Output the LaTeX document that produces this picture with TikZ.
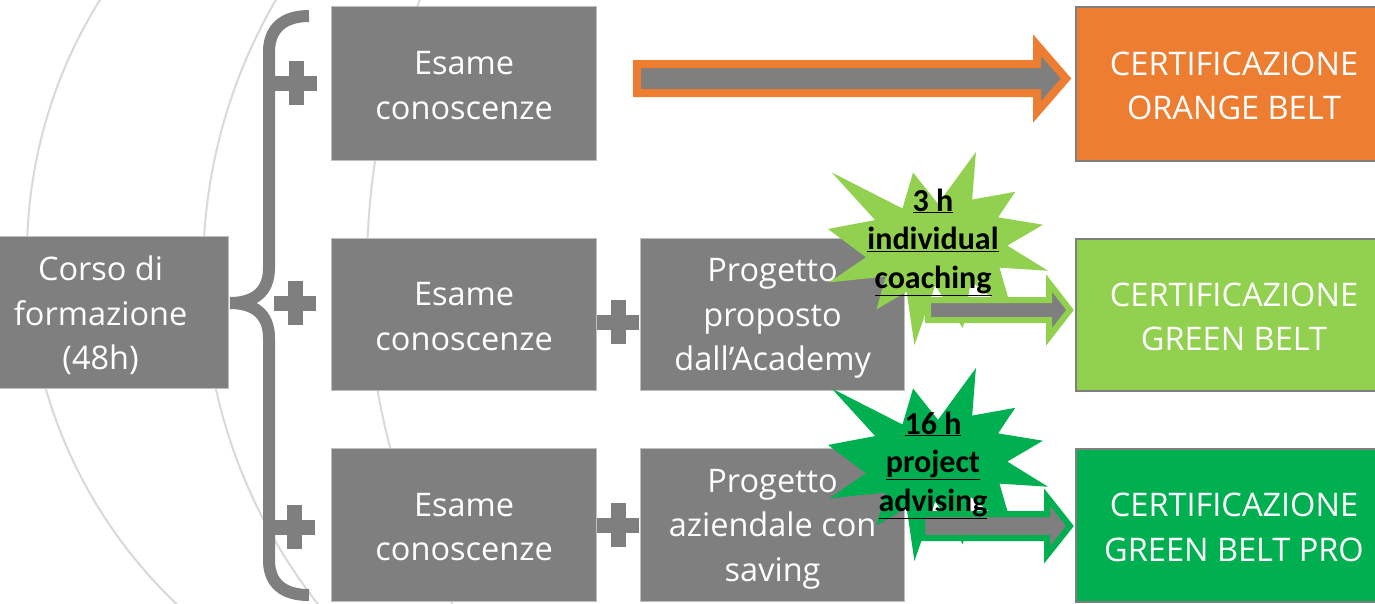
\documentclass[tikz,border=0pt]{standalone}
\usepackage{fontspec}
\usetikzlibrary{calc}
\newfontfamily\osans{Open Sans}
\newfontfamily\carl{Carlito}
\definecolor{boxgray}{HTML}{7F7F7F}
\definecolor{boxline}{HTML}{BFBFBF}
\definecolor{certline}{HTML}{7F7F7F}
\definecolor{orangebelt}{HTML}{ED7D31}
\definecolor{greenbelt}{HTML}{92D050}
\definecolor{greenpro}{HTML}{00B050}
\definecolor{arcgray}{HTML}{D9D9D9}
\begin{document}
\begin{tikzpicture}[x=1pt,y=-1pt,
  box/.style={rectangle, anchor=north west, inner sep=0pt},
  graybox/.style={box, fill=boxgray, draw=boxline, line width=1.2pt},
  certbox/.style={box, draw=certline, line width=2pt},
  boxtext/.style={align=center, text=white, inner sep=0pt,
              font=\osans\fontsize{32.5}{44.5}\selectfont},
  startext/.style={align=center, text=black, inner sep=0pt,
              font=\carl\bfseries\fontsize{32}{38.5}\selectfont},
  braceline/.style={draw=boxgray, line width=12pt},
  bgarc/.style={draw=arcgray, line width=2pt},
  blockarrow/.style={fill=boxgray, line join=miter},
  pics/plussign/.style={code={
    \fill[boxgray] (-21,-7.5) rectangle (21,7.5);
    \fill[boxgray] (-7.5,-22) rectangle (7.5,22);}},
  pics/explosion/.style={code={
    \fill[#1] (108,58) -- (83.52,22.95) -- (73.12,63.20) -- (3.70,22.95) -- (46.27,76.17)
      -- (0,86.15) -- (37.22,117.75) -- (1.35,145.87) -- (56.67,139.37) -- (47.62,176.17)
      -- (77.15,156.27) -- (84.85,216) -- (105.32,149.35) -- (132.47,197.37) -- (140.20,144.57)
      -- (181.45,180.95) -- (168.37,129.42) -- (216,132.90) -- (176.07,104.75) -- (210.97,81.37)
      -- (167.02,73.15) -- (183.80,44.57) -- (141.55,53.25) -- (145.22,0) -- cycle;}}
]
\useasboundingbox (0,0) rectangle (1375,603);
\fill[white] (0,0) rectangle (1375,603);

% background arcs
\begin{scope}
  \clip (0,0) rectangle (640,603);
  \draw[bgarc] (509,255) circle[radius=482];
  \draw[bgarc] (743,271) circle[radius=540];
  \draw[bgarc] (1071,268) circle[radius=704];
\end{scope}

% boxes
\node[graybox, minimum width=256pt, minimum height=152pt] (corso) at (-28,236) {};
\node[graybox, minimum width=265pt, minimum height=154pt] (e1) at (331,6) {};
\node[graybox, minimum width=265pt, minimum height=152pt] (e2) at (331,238) {};
\node[graybox, minimum width=265pt, minimum height=153pt] (e3) at (331,448) {};
\node[graybox, minimum width=264pt, minimum height=152pt] (p1) at (640,238) {};
\node[graybox, minimum width=264pt, minimum height=153pt] (p2) at (640,448) {};
\node[certbox, fill=orangebelt, minimum width=316pt, minimum height=154pt] (c1) at (1075,6) {};
\node[certbox, fill=greenbelt, minimum width=316pt, minimum height=152pt] (c2) at (1075,238) {};
\node[certbox, fill=greenpro, minimum width=316pt, minimum height=153pt] (c3) at (1075,448) {};

% box texts
\node[boxtext] (corsot) at ($(corso.center)+(0,3)$) {Corso di\\formazione\\(48h)};
\node[boxtext] (e1t) at ($(e1.center)+(0,2)$) {Esame\\conoscenze};
\node[boxtext] (e2t) at ($(e2.center)+(0,2)$) {Esame\\conoscenze};
\node[boxtext] (e3t) at ($(e3.center)+(0,2)$) {Esame\\conoscenze};
\node[boxtext] (p1t) at ($(p1.center)+(0,4)$) {Progetto\\proposto\\dall’Academy};
\node[boxtext] (p2t) at ($(p2.center)+(0,4)$) {Progetto\\aziendale con\\saving};
\node[boxtext] (c1t) at ($(c1.center)+(0,2)$) {CERTIFICAZIONE\\ORANGE BELT};
\node[boxtext] (c2t) at ($(c2.center)+(0,2)$) {CERTIFICAZIONE\\GREEN BELT};
\node[boxtext] (c3t) at ($(c3.center)+(0,2)$) {CERTIFICAZIONE\\GREEN BELT PRO};

% brace
\draw[braceline] (309,16) .. controls (284,16) and (269,28) .. (269,52) -- (269,268)
  .. controls (269,292) and (254,303) .. (230,303)
  .. controls (254,303) and (269,314) .. (269,338) -- (269,560)
  .. controls (269,584) and (284,595) .. (309,595);

% plus signs
\pic at (296,83) {plussign};
\pic at (295,303) {plussign};
\pic at (294,527) {plussign};
\pic at (618,322) {plussign};
\pic at (618,525) {plussign};

% explosions
\pic[xscale=1.0185, yscale=0.8935] at (828,152) {explosion=greenbelt};
\pic[xscale=1.0185, yscale=0.8935] at (828,368) {explosion=greenpro};

% block arrows
\coordinate (a1s) at (637,78.5);
\coordinate (a2s) at (928,310);
\coordinate (a3s) at (922,526);
\draw[blockarrow, draw=orangebelt, line width=8pt] ($(a1s)+(0,-14.5)$) -- ++(400,0) -- ++(0,-19)
  -- ++(29,33.5) -- ++(-29,33.5) -- ++(0,-19) -- ++(-400,0) -- cycle;
\draw[blockarrow, draw=greenbelt, line width=6pt] ($(a2s)+(0,-10)$) -- ++(121,0) -- ++(0,-17)
  -- ++(21,27) -- ++(-21,27) -- ++(0,-17) -- ++(-121,0) -- cycle;
\draw[blockarrow, draw=greenpro, line width=6pt] ($(a3s)+(0,-12)$) -- ++(125,0) -- ++(0,-17)
  -- ++(23,29) -- ++(-23,29) -- ++(0,-17) -- ++(-125,0) -- cycle;

% star texts
\node[startext] (s1t) at (933,242) {\underline{3 h}\\\underline{individual}\\\underline{coaching}};
\node[startext] (s2t) at (933,465) {\underline{16 h}\\\underline{project}\\\underline{advising}};
\end{tikzpicture}
\end{document}
